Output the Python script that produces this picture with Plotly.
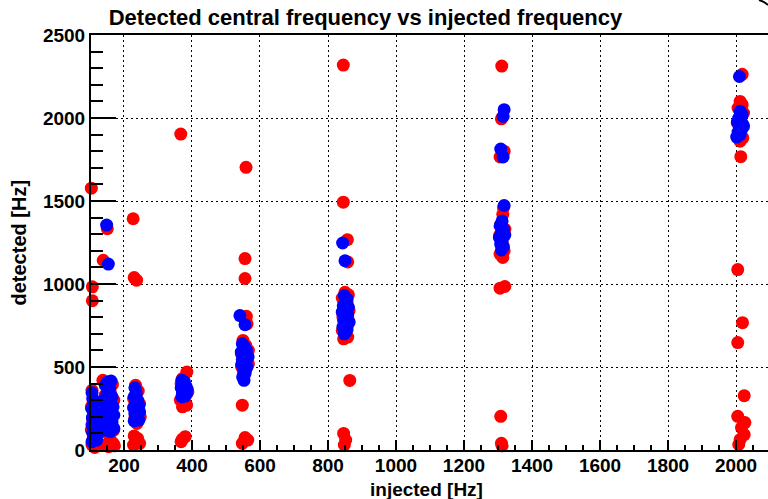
import plotly.graph_objects as go

# ---- data ----
red_x = [104, 107, 107, 106, 110, 104, 115, 108, 120, 104, 112, 118, 106, 114, 124, 110,
         151, 139, 138, 150, 166, 160, 145, 170, 155, 148, 165, 140, 158, 170, 150, 160, 168, 145, 155, 172,
         227, 230, 237, 234, 242, 228, 246, 236, 240, 232, 248, 238, 230, 240, 234, 246, 228,
         367, 385, 372, 368, 380, 388, 374, 366, 378, 384, 372, 380, 372, 368,
         559, 556, 556, 560, 562, 550, 558, 566, 545, 560, 552, 566, 546, 558, 552, 548, 556, 564, 548,
         845, 845, 857, 858, 850, 860, 842, 856, 846, 862, 852, 844, 860, 848, 856, 842, 852, 858, 846, 864, 846, 852, 848,
         1311, 1310, 1318, 1306, 1316, 1314, 1308, 1320, 1304, 1312, 1318, 1306, 1314, 1306, 1320, 1308, 1310, 1312,
         2018, 2012, 2018, 2006, 2022, 2010, 2004, 2016, 2008, 2020, 2012, 2014, 2005, 2019, 2005, 2024, 2005, 2026, 2016, 2024, 2012, 2008]
red_y = [1577, 983, 899, 360, 300, 260, 220, 180, 150, 120, 90, 60, 30, 15, 40, 200,
         1333, 1143, 420, 400, 395, 350, 330, 300, 270, 240, 200, 180, 150, 120, 105, 60, 40, 30, 20, 25,
         1393, 1039, 1023, 390, 355, 310, 280, 250, 215, 190, 200, 160, 85, 70, 55, 40, 30,
         1903, 470, 430, 400, 370, 350, 330, 300, 290, 270, 260, 80, 65, 50,
         1703, 1153, 1033, 805, 760, 660, 630, 600, 580, 555, 530, 520, 500, 480, 455, 270, 75, 60, 40,
         2319, 1493, 1267, 1133, 950, 935, 915, 890, 860, 840, 820, 800, 780, 760, 740, 720, 700, 680, 670, 419, 100, 60, 30,
         2313, 1995, 1800, 1765, 1460, 1420, 1360, 1330, 1290, 1250, 1200, 1180, 1160, 975, 985, 203, 40, 25,
         2263, 2100, 2080, 2060, 2030, 2000, 1970, 1940, 1910, 1880, 1860, 1767, 1087, 767, 647, 327, 203, 165, 135, 93, 63, 33]

blue_x = [106, 108, 112, 105, 110, 118, 107, 114, 120, 106, 112, 118, 108, 115, 110, 120, 106, 124, 122, 125,
          149, 154, 152, 162, 145, 158, 150, 165, 140, 155, 168, 145, 160, 150, 170, 140, 158, 165, 148, 155, 170, 142, 160, 135,
          232, 236, 230, 240, 234, 244, 228, 238, 246, 232, 240, 236, 244, 230,
          370, 378, 374, 382, 368, 386, 376, 372, 384, 380, 370,
          541, 556, 548, 555, 560, 545, 552, 565, 548, 558, 546, 562, 552, 556, 549, 553,
          843, 850, 848, 856, 852, 845, 860, 850, 842, 858, 853, 846, 862, 850, 844, 856, 852, 848,
          1318, 1315, 1308, 1315, 1318, 1312, 1306, 1316, 1310, 1320, 1304, 1312, 1308, 1316, 1310,
          2010, 2012, 2018, 2008, 2014, 2004, 2020, 2010, 2016, 2006, 2012, 2022, 2002]
blue_y = [345, 310, 280, 250, 230, 210, 195, 180, 165, 150, 135, 120, 105, 90, 75, 60, 50, 130, 100, 200,
          1355, 1120, 410, 415, 390, 370, 340, 320, 300, 285, 260, 250, 240, 220, 210, 200, 185, 170, 160, 140, 130, 120, 110, 160,
          375, 345, 320, 300, 285, 270, 255, 240, 230, 220, 205, 190, 180, 175,
          420, 410, 395, 385, 375, 365, 355, 345, 340, 325, 320,
          810, 755, 640, 620, 600, 590, 570, 560, 545, 530, 515, 500, 480, 460, 440, 420,
          1247, 1140, 930, 910, 890, 870, 860, 845, 830, 815, 800, 780, 770, 755, 740, 725, 710, 700,
          2050, 2010, 1813, 1765, 1473, 1380, 1350, 1330, 1310, 1295, 1280, 1260, 1240, 1225, 1205,
          2250, 2040, 2020, 2000, 1990, 1975, 1960, 1945, 1930, 1915, 1900, 1950, 1885]

title_text = "Detected central frequency vs injected frequency"
x_title = "injected [Hz]"
y_title = "detected [Hz]"

FONT = "Liberation Sans, Arial, Helvetica, sans-serif"

fig = go.Figure()
fig.add_trace(go.Scatter(x=red_x, y=red_y, mode="markers",
                         marker=dict(color="#ff0000", size=13, line=dict(width=0)),
                         cliponaxis=False, showlegend=False))
fig.add_trace(go.Scatter(x=blue_x, y=blue_y, mode="markers",
                         marker=dict(color="#0000ff", size=13, line=dict(width=0)),
                         cliponaxis=False, showlegend=False))

axis_common = dict(
    showline=True, linecolor="black", linewidth=2,
    ticks="inside", tickcolor="black", tickwidth=2,
    showgrid=True, gridcolor="black", gridwidth=1.3, griddash="2px,3px",
    zeroline=False,
    tickfont=dict(family=FONT, size=19, color="black", weight="bold"),
)

fig.update_xaxes(**axis_common, range=[103, 2094], tick0=0, dtick=200, ticklen=10,
                 mirror=True, ticklabelstandoff=-3,
                 minor=dict(ticks="inside", ticklen=5, dtick=50, tick0=0, tickcolor="black",
                            tickwidth=2, showgrid=False))
fig.update_yaxes(**axis_common, range=[0, 2500], tick0=0, dtick=500, ticklen=25,
                 minor=dict(ticks="inside", ticklen=12, dtick=100, tick0=0, tickcolor="black",
                            tickwidth=2, showgrid=False))

fig.update_layout(
    width=768, height=499,
    margin=dict(l=91, r=0, t=35, b=49),
    paper_bgcolor="white", plot_bgcolor="white",
    title=dict(text=title_text, x=365.5 / 768, xref="container", xanchor="center",
               y=1 - 17 / 499, yref="container", yanchor="middle",
               font=dict(family=FONT, size=22, color="black", weight="bold")),
    annotations=[
        dict(text=x_title, xref="paper", yref="paper", x=0.495, y=0, xanchor="center",
             yanchor="middle", yshift=-39, showarrow=False,
             font=dict(family=FONT, size=19, color="black", weight="bold")),
        dict(text=y_title, xref="paper", yref="paper", x=0, y=0.5, xanchor="center",
             yanchor="middle", xshift=-73, textangle=-90, showarrow=False,
             font=dict(family=FONT, size=20, color="black", weight="bold")),
    ],
    shapes=[dict(type="path", xref="paper", yref="paper",
                 path="M 0.9867,1.0843 Q 0.995,1.08 1.0,1.0723",
                 line=dict(color="black", width=2))],
)

fig.write_html("out.html")
